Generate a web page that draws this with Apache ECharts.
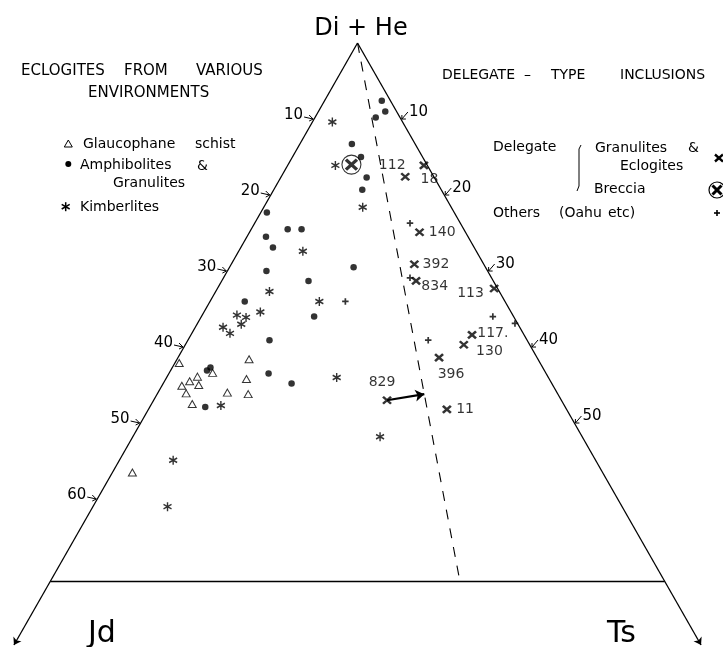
<!DOCTYPE html>
<html>
<head>
<meta charset="utf-8">
<title>Di+He – Jd – Ts</title>
<script src="https://cdn.jsdelivr.net/npm/echarts@6/dist/echarts.min.js"></script>
<style>
  html, body { margin: 0; padding: 0; background: #fff; }
  #chart { width: 723px; height: 647px; }
</style>
</head>
<body>
<div id="chart"></div>
<script>
// Pyroxene compositions, each as [Di+He, Jd, Ts] in per cent.

// Eclogites from various environments
const glaucophaneSchist = [
  [57.9, 41.6, 0.5], [58.4, 33.3, 8.3], [56.6, 38.4, 5.0], [56.1, 40.4, 3.5],
  [55.5, 41.6, 2.9], [55.0, 40.8, 4.2], [54.9, 42.8, 2.3], [53.9, 42.8, 3.3],
  [52.5, 42.8, 4.7], [54.0, 38.0, 8.0], [55.8, 34.9, 9.3], [53.8, 35.7, 10.5],
  [43.5, 54.2, 2.3]
];
const amphibolitesGranulites = [
  [92.4, 1.0, 6.6], [91.0, 1.3, 7.7], [90.2, 2.8, 7.0], [86.7, 7.3, 6.0],
  [85.0, 7.1, 7.9], [82.3, 7.8, 9.9], [80.7, 9.1, 10.2], [77.7, 21.6, 0.7],
  [75.5, 20.3, 4.2], [75.5, 18.7, 5.8], [74.5, 23.3, 2.2], [73.1, 23.2, 3.7],
  [70.5, 15.2, 14.3], [70.0, 25.5, 4.5], [68.7, 21.3, 10.0], [66.0, 30.0, 4.0],
  [64.0, 23.0, 13.0], [60.9, 29.7, 9.4], [56.9, 38.9, 4.2], [57.3, 38.3, 4.4],
  [56.5, 32.0, 11.5], [55.2, 30.0, 14.8], [52.1, 41.5, 6.4]
];
const kimberlites = [
  [89.6, 8.1, 2.3], [83.9, 10.6, 5.5], [78.4, 10.2, 11.4], [72.6, 20.0, 7.4],
  [67.3, 26.5, 6.2], [66.0, 21.4, 12.6], [64.6, 28.9, 6.5], [64.2, 31.8, 4.0],
  [63.9, 30.9, 5.2], [63.0, 31.9, 5.1], [62.6, 34.2, 3.2], [61.8, 33.8, 4.4],
  [56.0, 24.4, 19.6], [52.3, 39.6, 8.1], [45.1, 48.7, 6.2], [39.0, 52.4, 8.6],
  [48.2, 23.3, 28.5]
];

// Delegate-type inclusions
const delegateSampleNames = ['112', '18', '140', '392', '834', '113', '117.', '130', '396', '829', '11'];
const delegateGranulitesEclogites = [
  [83.9, 0.4, 15.7], [82.4, 3.3, 14.3], [75.1, 5.3, 19.6], [70.9, 8.0, 21.1],
  [68.7, 8.9, 22.4], [67.7, 0.4, 31.9], [61.6, 6.0, 32.4], [60.3, 7.6, 32.1],
  [58.6, 11.3, 30.1], [53.0, 20.1, 26.9], [51.8, 13.8, 34.4]
];
const delegateBreccia = [[84.0, 8.7, 7.3]];
const othersOahu = [
  [76.3, 5.8, 17.9], [69.1, 9.4, 21.5], [66.0, 18.4, 15.6],
  [64.0, 2.4, 33.6], [63.1, 0.3, 36.6], [60.9, 11.4, 27.7]
];
// shift of sample 829 onto the Jd:Ts = 1:2 line
const sample829Shift = [[53.0, 20.1, 26.9], [53.8, 15.4, 30.8]];

// Triangle frame and reference lines
const apex = [100, 0, 0];
const jdEdgeEnd = [20.8, 79.2, 0];
const tsEdgeEnd = [20.8, 0, 79.2];
const lowerLimit = [[29.2, 70.8, 0], [29.2, 0, 70.8]];
const jdTsOneToTwo = [[100, 0, 0], [29.2, 23.6, 47.2]];

// Edge tick labels (Jd on the left edge, Ts on the right edge)
const jdTicks = [10, 20, 30, 40, 50, 60];
const tsTicks = [10, 20, 30, 40, 50];

// ---------------------------------------------------------------------------
const FONT = '"DejaVu Sans", "Liberation Sans", sans-serif';

// ternary composition -> plane coordinates (x along the Jd–Ts base, y = Di+He)
function tern(c) {
  const s = c[0] + c[1] + c[2];
  const d = c[0] / s * 100, t = c[2] / s * 100;
  return [t + d / 2, d];
}
const pts = arr => arr.map(tern);

const STAR = 'path://M4,0L4,8M0.54,2L7.46,6M0.54,6L7.46,2';
const CROSS = 'path://M0,0L8,7M0,7L8,0';
const PLUS = 'path://M3,0L3,6M0,3L6,3';

// label placement for the Delegate sample numbers
const delegateLabelPlacement = [
  { position: 'left', distance: 13, offset: [0, 0] },
  { position: 'right', distance: 10, offset: [0, 3] },
  { position: 'right', distance: 4, offset: [0, 0] },
  { position: 'right', distance: 3, offset: [0, 0] },
  { position: 'right', distance: 0, offset: [0, 5] },
  { position: 'left', distance: 5, offset: [0, 5] },
  { position: 'right', distance: 0, offset: [0, -2] },
  { position: 'right', distance: 7, offset: [0, 7] },
  { position: 'bottom', distance: 5, offset: [12, 0] },
  { position: 'top', distance: 6, offset: [-5, 0] },
  { position: 'right', distance: 4, offset: [0, 0] }
];

const delegateData = delegateGranulitesEclogites.map((c, i) => ({
  name: delegateSampleNames[i],
  value: tern(c),
  label: delegateLabelPlacement[i]
}));

const tickData = jdTicks.map(v => tern([100 - v, v, 0]).concat([0, v]))
  .concat(tsTicks.map(v => tern([100 - v, 0, v]).concat([1, v])));

const stroke = { stroke: '#000', lineWidth: 1, fill: null };

function renderTick(params, api) {
  const p = api.coord([api.value(0), api.value(1)]);
  const x = p[0], y = p[1];
  const side = api.value(2);
  const txt = String(api.value(3));
  if (side === 0) {
    return {
      type: 'group',
      children: [
        { type: 'polyline', shape: { points: [[x - 10, y - 2], [x - 1, y]] }, style: stroke },
        { type: 'polyline', shape: { points: [[x - 5, y - 4], [x - 1, y], [x - 5, y + 2]] }, style: stroke },
        { type: 'text', style: { text: txt, x: x - 11, y: y - 4, align: 'right', textAlign: 'right',
          verticalAlign: 'middle', textVerticalAlign: 'middle', font: '15px ' + FONT, fill: '#000' } }
      ]
    };
  }
  return {
    type: 'group',
    children: [
      { type: 'polyline', shape: { points: [[x + 1, y], [x + 7, y - 7]] }, style: stroke },
      { type: 'polyline', shape: { points: [[x + 1, y - 4], [x + 1, y], [x + 5, y]] }, style: stroke },
      { type: 'text', style: { text: txt, x: x + 8, y: y - 7, align: 'left', textAlign: 'left',
        verticalAlign: 'middle', textVerticalAlign: 'middle', font: '15px ' + FONT, fill: '#000' } }
    ]
  };
}

// free text and the legend keys
function txt(text, x, y, size, align) {
  return {
    type: 'text', x: x, y: y, silent: true,
    style: { text: text, font: size + 'px ' + FONT, fill: '#000',
      align: align || 'left', textAlign: align || 'left', verticalAlign: 'middle', textVerticalAlign: 'middle' }
  };
}
function seg(x1, y1, x2, y2, w) {
  return { type: 'line', silent: true, shape: { x1: x1, y1: y1, x2: x2, y2: y2 },
    style: { stroke: '#000', lineWidth: w || 1 } };
}
function starKey(cx, cy) {
  return [seg(cx, cy - 4.5, cx, cy + 4.5, 1.5), seg(cx - 4, cy - 2.3, cx + 4, cy + 2.3, 1.5),
          seg(cx - 4, cy + 2.3, cx + 4, cy - 2.3, 1.5)];
}

const graphic = [
  txt('Di + He', 361, 29, 24, 'center'),
  txt('Jd', 88, 634, 30),
  txt('Ts', 607, 634, 30),
  txt('ECLOGITES', 21, 71, 15),
  txt('FROM', 124, 71, 15),
  txt('VARIOUS', 196, 71, 15),
  txt('ENVIRONMENTS', 88, 93, 15),
  txt('DELEGATE', 442, 75, 14),
  txt('–', 524, 75, 14),
  txt('TYPE', 551, 75, 14),
  txt('INCLUSIONS', 620, 75, 14),
  txt('Glaucophane', 83, 144, 14),
  txt('schist', 195, 144, 14),
  txt('Amphibolites', 80, 165, 14),
  txt('&', 197, 166, 14),
  txt('Granulites', 113, 183, 14),
  txt('Kimberlites', 80, 207, 14),
  txt('Delegate', 493, 147, 14),
  txt('Granulites', 595, 148, 14),
  txt('&', 688, 148, 14),
  txt('Eclogites', 620, 166, 14),
  txt('Breccia', 594, 189, 14),
  txt('Others', 493, 213, 14),
  txt('(Oahu', 559, 213, 14),
  txt('etc)', 608, 213, 14),
  // keys
  { type: 'polygon', silent: true, shape: { points: [[68.3, 140], [72.3, 147], [64.3, 147]] },
    style: { fill: '#fff', stroke: '#000', lineWidth: 1 } },
  { type: 'circle', silent: true, shape: { cx: 68.3, cy: 164, r: 3 }, style: { fill: '#000' } },
  { type: 'group', silent: true, children: starKey(65.7, 206.7) },
  seg(715, 154.5, 723, 161.5, 2.4), seg(715, 161.5, 723, 154.5, 2.4),
  { type: 'circle', silent: true, shape: { cx: 717, cy: 190, r: 8 }, style: { fill: 'none', stroke: '#000', lineWidth: 1.2 } },
  seg(712.5, 185.5, 721.5, 194.5, 3), seg(712.5, 194.5, 721.5, 185.5, 3),
  seg(717, 210, 717, 216, 1.6), seg(714, 213, 720, 213, 1.6),
  // bracket between the Delegate groups
  { type: 'polyline', silent: true, shape: { points: [[581, 145], [579, 149], [579, 186], [577, 191]] },
    style: { stroke: '#000', lineWidth: 1, fill: null } }
];

const chart = echarts.init(document.getElementById('chart'), null, { renderer: 'canvas' });
chart.setOption({
  animation: false,
  backgroundColor: '#fff',
  grid: { left: 0, right: 0, top: 0, bottom: 0 },
  xAxis: { type: 'value', min: 8.79, max: 92.13, show: false },
  yAxis: { type: 'value', min: 20.53, max: 105.66, show: false },
  graphic: graphic,
  series: [
    {
      type: 'lines', coordinateSystem: 'cartesian2d', silent: true, z: 1,
      symbol: ['none', 'arrow'], symbolSize: 7,
      lineStyle: { color: '#000', width: 1.3, opacity: 1, curveness: 0 },
      data: [{ coords: [tern(apex), tern(jdEdgeEnd)] }, { coords: [tern(apex), tern(tsEdgeEnd)] }]
    },
    {
      type: 'lines', coordinateSystem: 'cartesian2d', silent: true, z: 1,
      symbol: 'none',
      lineStyle: { color: '#000', width: 1.3, opacity: 1, curveness: 0 },
      data: [
        { coords: pts(lowerLimit) },
        { coords: pts(jdTsOneToTwo), lineStyle: { type: [10, 9], width: 1.1 } }
      ]
    },
    {
      type: 'lines', coordinateSystem: 'cartesian2d', silent: true, z: 3,
      symbol: ['none', 'arrow'], symbolSize: 9,
      lineStyle: { color: '#000', width: 2.2, opacity: 1, curveness: 0 },
      data: [{ coords: pts(sample829Shift) }]
    },
    {
      name: 'Glaucophane schist', type: 'scatter', z: 4,
      symbol: 'triangle', symbolSize: [8, 7],
      itemStyle: { color: '#fff', borderColor: '#000', borderWidth: 1 },
      data: pts(glaucophaneSchist)
    },
    {
      name: 'Amphibolites & Granulites', type: 'scatter', z: 4,
      symbol: 'circle', symbolSize: 6.5,
      itemStyle: { color: '#000' },
      data: pts(amphibolitesGranulites)
    },
    {
      name: 'Kimberlites', type: 'scatter', z: 4,
      symbol: STAR, symbolSize: [8, 9],
      itemStyle: { color: 'transparent', borderColor: '#000', borderWidth: 1.5 },
      data: pts(kimberlites)
    },
    {
      name: 'Delegate Granulites & Eclogites', type: 'scatter', z: 5,
      symbol: CROSS, symbolSize: [8, 7],
      itemStyle: { color: 'transparent', borderColor: '#000', borderWidth: 2.4 },
      label: { show: true, formatter: '{b}', color: '#000', fontSize: 14, fontFamily: FONT },
      data: delegateData
    },
    {
      name: 'Delegate Breccia', type: 'scatter', z: 5,
      symbol: 'circle', symbolSize: 19,
      itemStyle: { color: 'transparent', borderColor: '#000', borderWidth: 1.1 },
      data: pts(delegateBreccia)
    },
    {
      name: 'Delegate Breccia core', type: 'scatter', z: 5,
      symbol: CROSS, symbolSize: [11, 10],
      itemStyle: { color: 'transparent', borderColor: '#000', borderWidth: 3.2 },
      data: pts(delegateBreccia)
    },
    {
      name: 'Others (Oahu etc)', type: 'scatter', z: 5,
      symbol: PLUS, symbolSize: 6.5,
      itemStyle: { color: 'transparent', borderColor: '#000', borderWidth: 1.7 },
      data: pts(othersOahu)
    },
    {
      name: 'ticks', type: 'custom', z: 2, silent: true,
      renderItem: renderTick,
      encode: { x: 0, y: 1 },
      data: tickData
    }
  ]
});
</script>
</body>
</html>
